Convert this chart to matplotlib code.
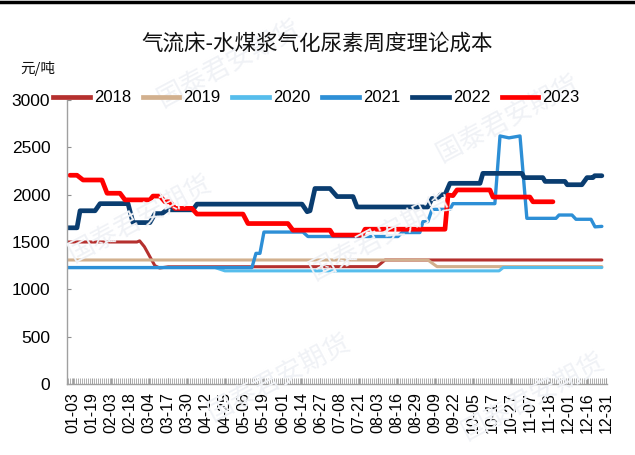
import numpy as np
import matplotlib
matplotlib.use("Agg")
import matplotlib.pyplot as plt
from matplotlib.lines import Line2D

plt.rcParams['font.family'] = ['Noto Sans CJK SC', 'DejaVu Sans']

title = "气流床-水煤浆气化尿素周度理论成本"
unit = "元/吨"
date_labels = ["01-03", "01-19", "02-03", "02-18", "03-04", "03-17", "03-30",
               "04-12", "04-25", "05-06", "05-19", "06-01", "06-14", "06-27",
               "07-08", "07-21", "08-03", "08-16", "08-29", "09-09", "09-22",
               "10-05", "10-17", "10-27", "11-07", "11-18", "12-01", "12-16",
               "12-31"]

# x is measured in date-label steps (0 = 01-03, 28 = 12-31)
x2018 = [-0.26, 3.36, 3.5, 3.75, 4.3, 4.55, 5.0, 15.97, 16.39, 27.78]
y2018 = [1500, 1500, 1512, 1450, 1250, 1225, 1238, 1240, 1310, 1310]

x2019 = [-0.26, 18.64, 19.12, 27.78]
y2019 = [1310, 1310, 1240, 1240]

x2020 = [-0.26, 7.46, 7.98, 22.38, 22.6, 27.78]
y2020 = [1230, 1230, 1195, 1195, 1230, 1230]

x2021 = [-0.26, 9.40, 9.61, 9.82, 10.03, 12.08, 12.34, 17.07, 17.28, 18.22,
         18.38, 18.64, 18.86, 19.80, 19.96, 22.16, 22.43, 22.9, 23.48, 23.84,
         25.37, 25.53, 26.21, 26.42, 27.21, 27.42, 27.78]
y2021 = [1230, 1230, 1380, 1380, 1605, 1605, 1558, 1558, 1600, 1600,
         1715, 1715, 1845, 1845, 1905, 1905, 2620, 2600, 2620, 1750,
         1750, 1785, 1785, 1740, 1740, 1660, 1665]

x2022 = [-0.26, 0.21, 0.37, 1.16, 1.42, 2.89, 3.15, 4.04, 4.31, 4.67, 4.94,
         6.30, 6.51, 12.03, 12.3, 12.45, 12.71, 13.50, 13.87, 14.71, 14.92,
         18.64, 18.86, 19.17, 19.3, 19.54, 19.80, 21.38, 21.53, 23.58, 23.7,
         24.68, 24.8, 25.84, 25.96, 26.73, 27.0, 27.31, 27.4, 27.78]
y2022 = [1650, 1650, 1830, 1830, 1905, 1905, 1705, 1705, 1800, 1800, 1840,
         1840, 1900, 1900, 1820, 1830, 2065, 2065, 1980, 1980, 1870,
         1870, 1960, 1960, 2000, 2000, 2120, 2120, 2225, 2225, 2180,
         2180, 2140, 2140, 2105, 2105, 2180, 2180, 2200, 2200]

x2023 = [-0.16, 0.21, 0.53, 1.52, 1.79, 2.47, 2.73, 4.04, 4.20, 4.57, 4.83,
         5.09, 5.36, 6.25, 6.51, 8.93, 9.19, 11.29, 11.55, 13.50, 13.66,
         15.18, 15.34, 19.54, 19.70, 19.96, 20.17, 21.90, 22.06, 24.0, 24.16,
         25.21]
y2023 = [2205, 2205, 2155, 2155, 2015, 2015, 1945, 1945, 1985, 1985, 1925,
         1925, 1855, 1855, 1795, 1795, 1695, 1695, 1625, 1625, 1573,
         1573, 1635, 1635, 1996, 1990, 2050, 2050, 1975, 1975, 1925,
         1925]

series = [
    ("2018", x2018, y2018, "#B5302E", 2.2),
    ("2019", x2019, y2019, "#D2B08E", 2.2),
    ("2020", x2020, y2020, "#56BDEC", 2.2),
    ("2021", x2021, y2021, "#2D8FD6", 2.4),
    ("2022", x2022, y2022, "#0A3D70", 3.4),
    ("2023", x2023, y2023, "#FF0000", 3.4),
]

W, H = 635, 455
fig = plt.figure(figsize=(W / 100, H / 100), dpi=100)

# faint company watermarks
for (wx, wy) in [(0.36, 0.86), (0.80, 0.74), (0.22, 0.52),
                 (0.60, 0.48), (0.44, 0.17), (0.84, 0.13)]:
    fig.text(wx, wy, "国泰君安期货", fontsize=19, color="#F0F2F6",
             rotation=28, ha="center", va="center", zorder=0)

ax = fig.add_axes([67 / W, 1 - 384 / H, (607 - 67) / W, (384 - 100) / H])
ax.patch.set_alpha(0)

for name, xs, ys, col, lw in series:
    ax.plot(xs, ys, color=col, lw=lw, solid_capstyle="round",
            solid_joinstyle="round")

ax.set_xlim(-0.315, 28.05)
ax.set_ylim(0, 3000)
ax.set_yticks(np.arange(0, 3001, 500))
ax.set_xticks(np.arange(len(date_labels)))
ax.set_xticklabels(date_labels, rotation=90, fontsize=11.5,
                   family=["Liberation Sans", "DejaVu Sans"])
ax.set_xticks(np.arange(-0.26, 28.0, 0.105), minor=True)
for lbl in ax.get_yticklabels():
    lbl.set_family(["Liberation Sans", "DejaVu Sans"])
    lbl.set_fontsize(12.5)

ax.tick_params(axis="y", direction="in", length=3, color="#909090",
               pad=12)
ax.tick_params(axis="x", which="both", direction="in", length=4,
               color="#A0A0A0", pad=6)
for side in ("top", "right"):
    ax.spines[side].set_visible(False)
for side in ("left", "bottom"):
    ax.spines[side].set_color("#A0A0A0")
    ax.spines[side].set_linewidth(1.0)

fig.text(317 / W, 1 - 44 / H, title, fontsize=15.5, ha="center",
         va="center", color="#111111")
fig.text(20 / W, 1 - 68 / H, unit, fontsize=10.5, ha="left", va="center",
         color="#111111")

handles = [Line2D([], [], color=c, lw=3.4) for _, _, _, c, _ in series]
labels = [s[0] for s in series]
fig.legend(handles, labels, loc="center left",
           bbox_to_anchor=(53 / W, 1 - 98 / H), ncol=6, frameon=False,
           handlelength=2.2, handletextpad=0.25, columnspacing=0.7,
           borderpad=0, borderaxespad=0,
           prop={"family": ["Liberation Sans", "DejaVu Sans"], "size": 12})

# top border strip
fig.add_artist(Line2D([0, 1], [1 - 1.5 / H, 1 - 1.5 / H],
                      transform=fig.transFigure, color="black", lw=2.5))

fig.savefig("out.png", dpi=100)
